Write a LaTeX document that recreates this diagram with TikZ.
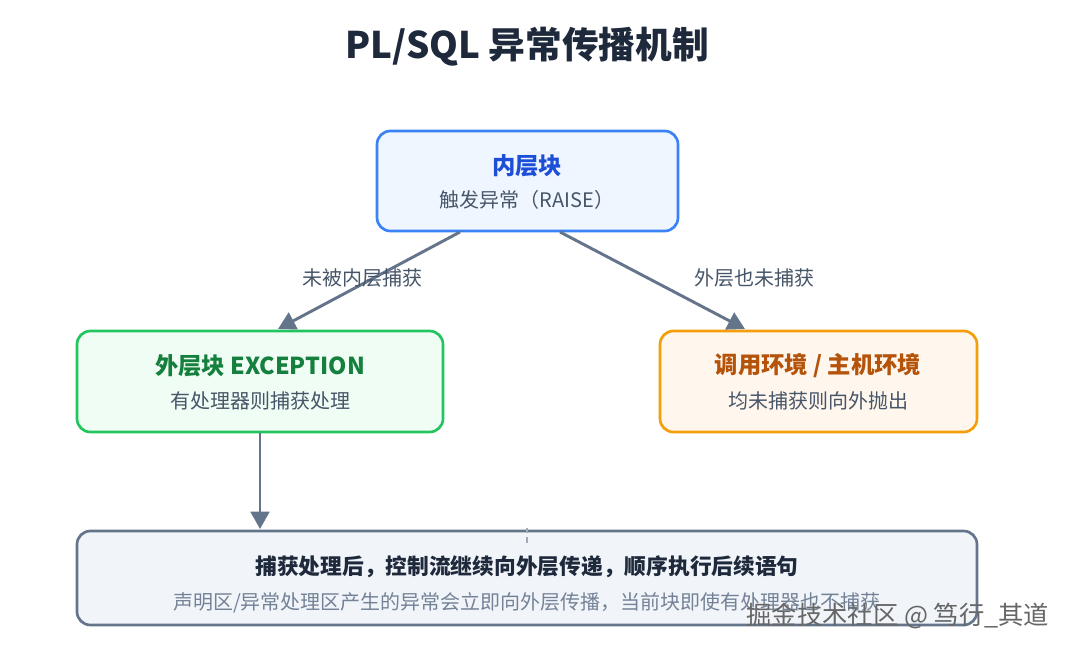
\documentclass[tikz,border=0pt]{standalone}
\usepackage{fontspec}
\setmainfont{Noto Sans CJK SC}
\usetikzlibrary{arrows.meta}
\definecolor{edgegray}{HTML}{64748B}
\definecolor{innerblue}{HTML}{3B82F6}
\definecolor{innerfill}{HTML}{EFF6FF}
\definecolor{innertext}{HTML}{1D4ED8}
\definecolor{outergreen}{HTML}{22C55E}
\definecolor{outerfill}{HTML}{F0FDF4}
\definecolor{outertext}{HTML}{15803D}
\definecolor{hostorange}{HTML}{F59E0B}
\definecolor{hostfill}{HTML}{FFF7ED}
\definecolor{hosttext}{HTML}{B45309}
\definecolor{notefill}{HTML}{F1F5F9}
\definecolor{darktext}{HTML}{1E293B}
\definecolor{subtext}{HTML}{475569}
\tikzset{
  box/.style={draw, line width=2pt, rounded corners=10pt},
  flow/.style={draw=edgegray, line width=2.2pt, -{Triangle[length=13pt,width=14pt]}},
  head/.style={font=\fontsize{17.5}{20}\bfseries},
  lbl/.style={font=\fontsize{15}{18}\selectfont, text=subtext},
}
\begin{document}
\begin{tikzpicture}[x=0.75pt,y=-0.75pt]
    \fill[white] (0,0) rectangle (1074,650);
    \node[font=\fontsize{27.5}{32}\bfseries, text=darktext] (title) at (527,47) {PL/SQL 异常传播机制};
    % boxes
    \draw[box, draw=innerblue, fill=innerfill] (377,131) rectangle (678,231);
    \node[head, text=innertext] (inner) at (527,166) {内层块};
    \node[lbl] (innersub) at (527,200) {触发异常（RAISE）};
    \draw[box, draw=outergreen, fill=outerfill] (77,331) rectangle (443,432);
    \node[head, text=outertext] (outer) at (260,366) {外层块 EXCEPTION};
    \node[lbl] (outersub) at (260,401) {有处理器则捕获处理};
    \draw[box, draw=hostorange, fill=hostfill] (660,331) rectangle (977,432);
    \node[head, text=hosttext] (host) at (818,366) {调用环境 / 主机环境};
    \node[lbl] (hostsub) at (818,401) {均未捕获则向外抛出};
    \draw[box, draw=edgegray, fill=notefill] (77,531) rectangle (977,625);
    \node[font=\fontsize{16.3}{19}\bfseries, text=darktext] (note) at (527,567) {捕获处理后，控制流继续向外层传递，顺序执行后续语句};
    \node[font=\fontsize{15}{18}\selectfont, text=edgegray!90] (notesub) at (527,603) {声明区/异常处理区产生的异常会立即向外层传播，当前块即使有处理器也不捕获};
    % connectors
    \coordinate (innerL) at (460,232);
    \coordinate (innerR) at (560,232);
    \coordinate (outerT) at (278,329);
    \coordinate (hostT) at (745,329);
    \coordinate (outerB) at (260,433);
    \coordinate (noteT) at (260,529);
    \draw[flow] (innerL) -- (outerT);
    \draw[flow] (innerR) -- (hostT);
    \draw[flow] (outerB) -- (noteT);
    \draw[edgegray!60, line width=1.5pt, dash pattern=on 4pt off 3pt] (527,528) -- (527,546);
    \node[lbl] (lblleft) at (362,278) {未被内层捕获};
    \node[lbl] (lblright) at (754,278) {外层也未捕获};
    \node[font=\fontsize{19}{22}\selectfont, text=gray!80!black, anchor=east] (mark) at (1054,616) {掘金技术社区 @ 笃行\_其道};
\end{tikzpicture}
\end{document}
